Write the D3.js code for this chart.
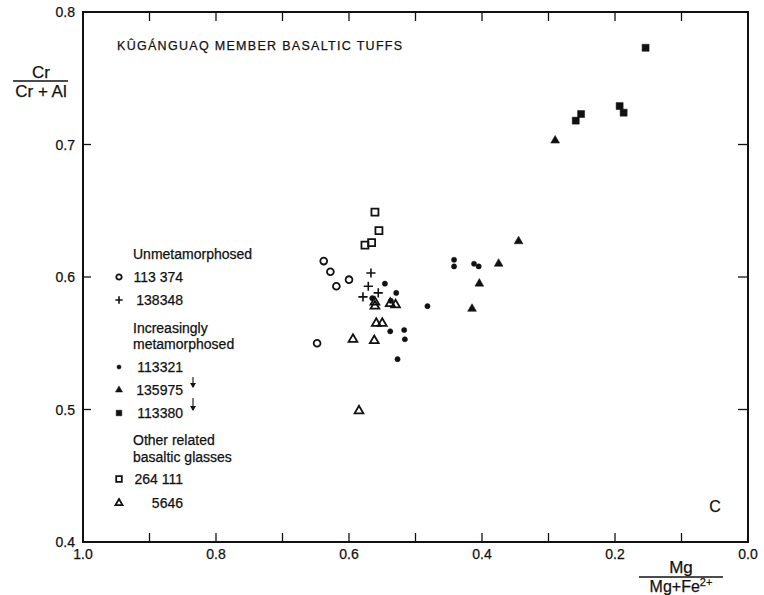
<!DOCTYPE html>
<html>
<head>
<meta charset="utf-8">
<script src="https://cdn.jsdelivr.net/npm/d3@7"></script>
<style>
  body { margin: 0; background: #fff; }
  svg text { font-family: "Liberation Sans", Arial, Helvetica, sans-serif; fill: #111; stroke: #111; stroke-width: 0.25px; }
</style>
</head>
<body>
<div id="chart"></div>
<script>
// Mg/(Mg+Fe2+) , Cr/(Cr+Al)
var unmet113374 = [[0.638, 0.612], [0.628, 0.604], [0.619, 0.593], [0.600, 0.598], [0.648, 0.550]];
var unmet138348 = [[0.567, 0.603], [0.571, 0.593], [0.556, 0.588], [0.579, 0.585]];
var meta113321 = [[0.546, 0.595], [0.529, 0.588], [0.565, 0.584], [0.537, 0.582], [0.482, 0.578],
                  [0.538, 0.559], [0.517, 0.560], [0.516, 0.553], [0.527, 0.538],
                  [0.442, 0.613], [0.442, 0.608], [0.412, 0.610], [0.405, 0.608]];
var meta135975 = [[0.415, 0.576], [0.404, 0.595], [0.375, 0.610], [0.345, 0.627], [0.290, 0.703]];
var meta113380 = [[0.259, 0.718], [0.251, 0.723], [0.193, 0.729], [0.187, 0.724], [0.154, 0.773]];
var glass264111 = [[0.561, 0.649], [0.555, 0.635], [0.566, 0.626], [0.576, 0.624]];
var glass5646 = [[0.561, 0.581], [0.561, 0.578], [0.538, 0.580], [0.530, 0.579], [0.559, 0.565],
                 [0.550, 0.565], [0.594, 0.553], [0.562, 0.552], [0.585, 0.499]];

var xTicks = [1.0, 0.9, 0.8, 0.7, 0.6, 0.5, 0.4, 0.3, 0.2, 0.1, 0.0];
var xTickLabels = ["1.0", "0.8", "0.6", "0.4", "0.2", "0.0"];
var yTickLabels = ["0.4", "0.5", "0.6", "0.7", "0.8"];

var titleText = "KÛGÁNGUAQ MEMBER BASALTIC TUFFS";

var series = [
  { name: "113 374", shape: "circle", data: unmet113374 },
  { name: "138348", shape: "plus", data: unmet138348 },
  { name: "113321", shape: "dot", data: meta113321 },
  { name: "135975", shape: "tri", data: meta135975 },
  { name: "113380", shape: "square", data: meta113380 },
  { name: "264 111", shape: "osquare", data: glass264111 },
  { name: "5646", shape: "otri", data: glass5646 }
];

var W = 764, H = 595;
var padL = 83, padR = 748, padT = 12, padB = 542;

var svg = d3.select("#chart").append("svg")
  .attr("width", W)
  .attr("height", H);

var x = d3.scaleLinear().domain([1, 0]).range([padL, padR]);
var y = d3.scaleLinear().domain([0.4, 0.8]).range([padB, padT]);

// shape paths, centred on 0,0
function shapePath(shape, k){
  k = k || 1;
  var p = d3.path();
  if(shape == "circle"){
    p.arc(0, 0, 3.4 * k, 0, 2 * Math.PI);
  }else if(shape == "dot"){
    p.arc(0, 0, 2.6 * k, 0, 2 * Math.PI);
  }else if(shape == "plus"){
    var a = 4.6 * k;
    p.moveTo(-a, 0); p.lineTo(a, 0);
    p.moveTo(0, -a); p.lineTo(0, a);
  }else if(shape == "tri" || shape == "otri"){
    var s = 8.8 * k, h = s * Math.sqrt(3) / 2;
    p.moveTo(0, -h * 2 / 3); p.lineTo(s / 2, h / 3); p.lineTo(-s / 2, h / 3); p.closePath();
  }else{
    var q = 3.5 * k;
    p.rect(-q, -q, 2 * q, 2 * q);
  }
  return p.toString();
}

function styleShape(sel, shape){
  var filled = (shape == "dot" || shape == "tri" || shape == "square");
  sel.attr("fill", filled ? "#111" : "none")
     .attr("stroke", "#111")
     .attr("stroke-width", shape == "plus" ? 1.6 : (filled ? 0.5 : 1.8))
     .attr("stroke-linejoin", "miter");
}

// frame
svg.append("rect")
  .attr("x", padL).attr("y", padT)
  .attr("width", padR - padL).attr("height", padB - padT)
  .attr("fill", "none").attr("stroke", "#111").attr("stroke-width", 2);

// ticks on all four sides, pointing inward
var tickLen = 9;
svg.append("g").selectAll("line").data(xTicks.slice(1, -1)).enter().append("line")
  .attr("x1", function(d){ return x(d); }).attr("x2", function(d){ return x(d); })
  .attr("y1", padB).attr("y2", padB - tickLen)
  .attr("stroke", "#111").attr("stroke-width", 1.3);
svg.append("g").selectAll("line").data(xTicks.slice(1, -1)).enter().append("line")
  .attr("x1", function(d){ return x(d); }).attr("x2", function(d){ return x(d); })
  .attr("y1", padT).attr("y2", padT + tickLen)
  .attr("stroke", "#111").attr("stroke-width", 1.3);
var yMid = yTickLabels.slice(1, -1);
svg.append("g").selectAll("line").data(yMid).enter().append("line")
  .attr("x1", padL).attr("x2", padL + 8)
  .attr("y1", function(d){ return y(+d); }).attr("y2", function(d){ return y(+d); })
  .attr("stroke", "#111").attr("stroke-width", 1.3);
svg.append("g").selectAll("line").data(yMid).enter().append("line")
  .attr("x1", padR).attr("x2", padR - 10)
  .attr("y1", function(d){ return y(+d); }).attr("y2", function(d){ return y(+d); })
  .attr("stroke", "#111").attr("stroke-width", 1.3);

// tick labels
svg.append("g").selectAll("text").data(yTickLabels).enter().append("text")
  .attr("x", padL - 8)
  .attr("y", function(d){ return y(+d) + 5; })
  .attr("text-anchor", "end")
  .style("font-size", "14px")
  .text(function(d){ return d; });
svg.append("g").selectAll("text").data(xTickLabels).enter().append("text")
  .attr("x", function(d){ return x(+d); })
  .attr("y", 559)
  .attr("text-anchor", "middle")
  .style("font-size", "14px")
  .text(function(d){ return d; });

// axis titles as fractions
var yl = svg.append("g").attr("transform", "translate(41,0)");
yl.append("text").attr("x", 0).attr("y", 78).attr("text-anchor", "middle")
  .style("font-size", "17px").text("Cr");
yl.append("line").attr("x1", -28).attr("x2", 27).attr("y1", 81).attr("y2", 81)
  .attr("stroke", "#111").attr("stroke-width", 1.3);
yl.append("text").attr("x", 0).attr("y", 97).attr("text-anchor", "middle")
  .style("font-size", "17px").text("Cr + Al");

var xl = svg.append("g").attr("transform", "translate(681,0)");
xl.append("text").attr("x", 0).attr("y", 573).attr("text-anchor", "middle")
  .style("font-size", "17px").text("Mg");
xl.append("line").attr("x1", -42).attr("x2", 42).attr("y1", 577).attr("y2", 577)
  .attr("stroke", "#111").attr("stroke-width", 1.3);
var den = xl.append("text").attr("x", 0).attr("y", 592).attr("text-anchor", "middle")
  .style("font-size", "16px");
den.append("tspan").text("Mg+Fe");
den.append("tspan").attr("dy", -6).style("font-size", "11px").text("2+");

// title and panel letter
svg.append("text").attr("x", 117).attr("y", 50)
  .style("font-size", "12.5px").style("letter-spacing", "1.3px")
  .text(titleText);
svg.append("text").attr("x", 715).attr("y", 512).attr("text-anchor", "middle")
  .style("font-size", "16px").text("C");

// data points
series.forEach(function(s){
  var g = svg.append("g");
  var pts = g.selectAll("path").data(s.data).enter().append("path")
    .attr("d", shapePath(s.shape))
    .attr("transform", function(d){ return "translate(" + x(d[0]) + "," + y(d[1]) + ")"; });
  styleShape(pts, s.shape);
});

// legend
var legendRows = [
  { head: "Unmetamorphosed", y: 259 },
  { key: 0, y: 282 },
  { key: 1, y: 305 },
  { head: "Increasingly", y: 333 },
  { head: "metamorphosed", y: 349 },
  { key: 2, y: 372 },
  { key: 3, y: 395 },
  { key: 4, y: 418 },
  { head: "Other related", y: 445 },
  { head: "basaltic glasses", y: 462 },
  { key: 5, y: 484 },
  { key: 6, y: 508 }
];
var lg = svg.append("g");
legendRows.forEach(function(r){
  if(r.head){
    lg.append("text").attr("x", 133).attr("y", r.y).style("font-size", "14px").text(r.head);
  }else{
    var s = series[r.key];
    var m = lg.append("path").attr("d", shapePath(s.shape, 0.8))
      .attr("transform", "translate(119," + (r.y - 5) + ")");
    styleShape(m, s.shape);
    lg.append("text").attr("x", 183).attr("y", r.y).attr("text-anchor", "end")
      .style("font-size", "14px").text(s.name);
  }
});

// arrows between metamorphic grades
[[377, 387], [398, 410]].forEach(function(a){
  lg.append("line").attr("x1", 193).attr("x2", 193).attr("y1", a[0]).attr("y2", a[1])
    .attr("stroke", "#111").attr("stroke-width", 1.1);
  lg.append("path")
    .attr("d", "M190," + (a[1] - 4) + "L196," + (a[1] - 4) + "L193," + (a[1] + 1) + "Z")
    .attr("fill", "#111");
});
</script>
</body>
</html>
